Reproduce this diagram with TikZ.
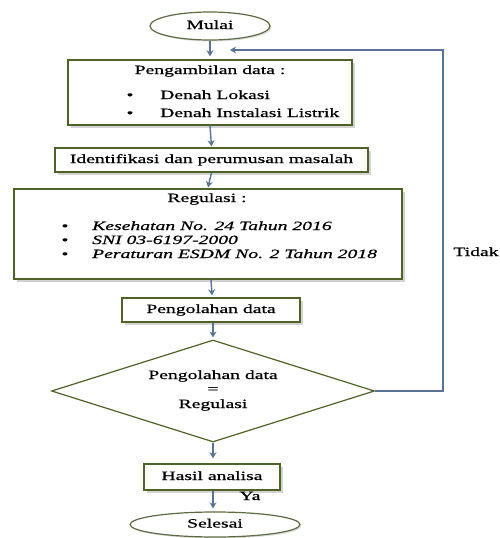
\documentclass[tikz,border=0pt]{standalone}
\usepackage{fontspec}
\setmainfont{Liberation Serif}[FakeStretch=1.56,FakeBold=0.6]
\usetikzlibrary{arrows.meta,shapes.geometric,shadows}
\definecolor{boxgreen}{HTML}{4F6228}
\definecolor{arrowblue}{HTML}{5A7394}
\begin{document}
\begin{tikzpicture}[x=1pt,y=-1pt,
  every node/.style={font=\fontsize{12.6}{14}\selectfont, inner sep=0pt, text height=8.6pt, text depth=2.6pt},
  procbox/.style={draw=boxgreen, line width=1.4pt, fill=white, rectangle,
    drop shadow={shadow xshift=2.5pt, shadow yshift=-2.5pt, opacity=0.35, fill=gray}},
  termbox/.style={draw=boxgreen!70!gray, line width=1.2pt, fill=white, ellipse,
    drop shadow={shadow xshift=1.5pt, shadow yshift=-1.5pt, opacity=0.25, fill=gray}},
  decbox/.style={draw=boxgreen, line width=1.2pt, fill=white, diamond, shape aspect=3.17},
  flow/.style={draw=arrowblue, line width=1.4pt, -{Stealth[length=6pt,width=7pt]}},
  txt/.style={anchor=center},
  lefttxt/.style={anchor=west},
]
\useasboundingbox (0,0) rectangle (499,538);

% terminals
\node[termbox, minimum width=120pt, minimum height=28pt] (mulai) at (210,26) {Mulai};
\node[termbox, minimum width=170pt, minimum height=25pt] (selesai) at (215,524.5) {Selesai};

% process boxes
\node[procbox, minimum width=284pt, minimum height=65pt] (ambil) at (210,92.5) {};
\node[txt] (ambilT) at (210,71) {Pengambilan data :};
\node[txt] (b1) at (130,96) {•};
\node[lefttxt] (ambil1) at (160,96) {Denah Lokasi};
\node[txt] (b2) at (130,114) {•};
\node[lefttxt] (ambil2) at (160,114) {Denah Instalasi Listrik};

\node[procbox, minimum width=313pt, minimum height=24pt] (ident) at (211.5,160) {Identifikasi dan perumusan masalah};

\node[procbox, minimum width=388pt, minimum height=90pt] (reg) at (208,234) {};
\node[txt] (regT) at (207,199) {Regulasi :};
\node[txt] (r1) at (65,227) {•};
\node[lefttxt] (reg1) at (92,227) {\itshape Kesehatan No. 24 Tahun 2016};
\node[txt] (r2) at (65,241) {•};
\node[lefttxt] (reg2) at (92,241) {\itshape SNI 03-6197-2000};
\node[txt] (r3) at (65,255) {•};
\node[lefttxt] (reg3) at (92,255) {\itshape Peraturan ESDM No. 2 Tahun 2018};

\node[procbox, minimum width=178pt, minimum height=24pt] (olah) at (211,310) {Pengolahan data};

\node[decbox, minimum width=323pt, minimum height=102pt] (dec) at (213,391) {};
\node[txt] (decT1) at (213,376) {Pengolahan data};
\node[txt] (decT2) at (213,390) {=};
\node[txt] (decT3) at (213,405) {Regulasi};

\node[procbox, minimum width=136pt, minimum height=26pt] (hasil) at (212,477) {Hasil analisa};

% labels
\node[txt] (ya) at (250,497) {Ya};
\node[txt] (tidak) at (476,253) {Tidak};

% connectors
\coordinate (loopTop) at (443,50);
\coordinate (loopEnd) at (230,50);
\draw[flow] (mulai.south) -- ([yshift=3pt]ambil.north);
\draw[flow] (ambil.south) -- ([yshift=1pt]ident.north);
\draw[flow] (ident.south) -- ([yshift=1pt]reg.north);
\draw[flow] ([xshift=3pt]reg.south) -- ([xshift=1pt,yshift=2pt]olah.north);
\draw[flow] ([xshift=2pt]olah.south) -- ([yshift=2pt]dec.north);
\draw[flow] (dec.south) -- ([xshift=1pt,yshift=5pt]hasil.north);
\draw[flow] ([xshift=1pt]hasil.south) -- ([xshift=-2pt,yshift=3pt]selesai.north);
\draw[flow] (dec.east) -- (dec.east -| loopTop) -- (loopTop) -- (loopEnd);
\end{tikzpicture}
\end{document}
